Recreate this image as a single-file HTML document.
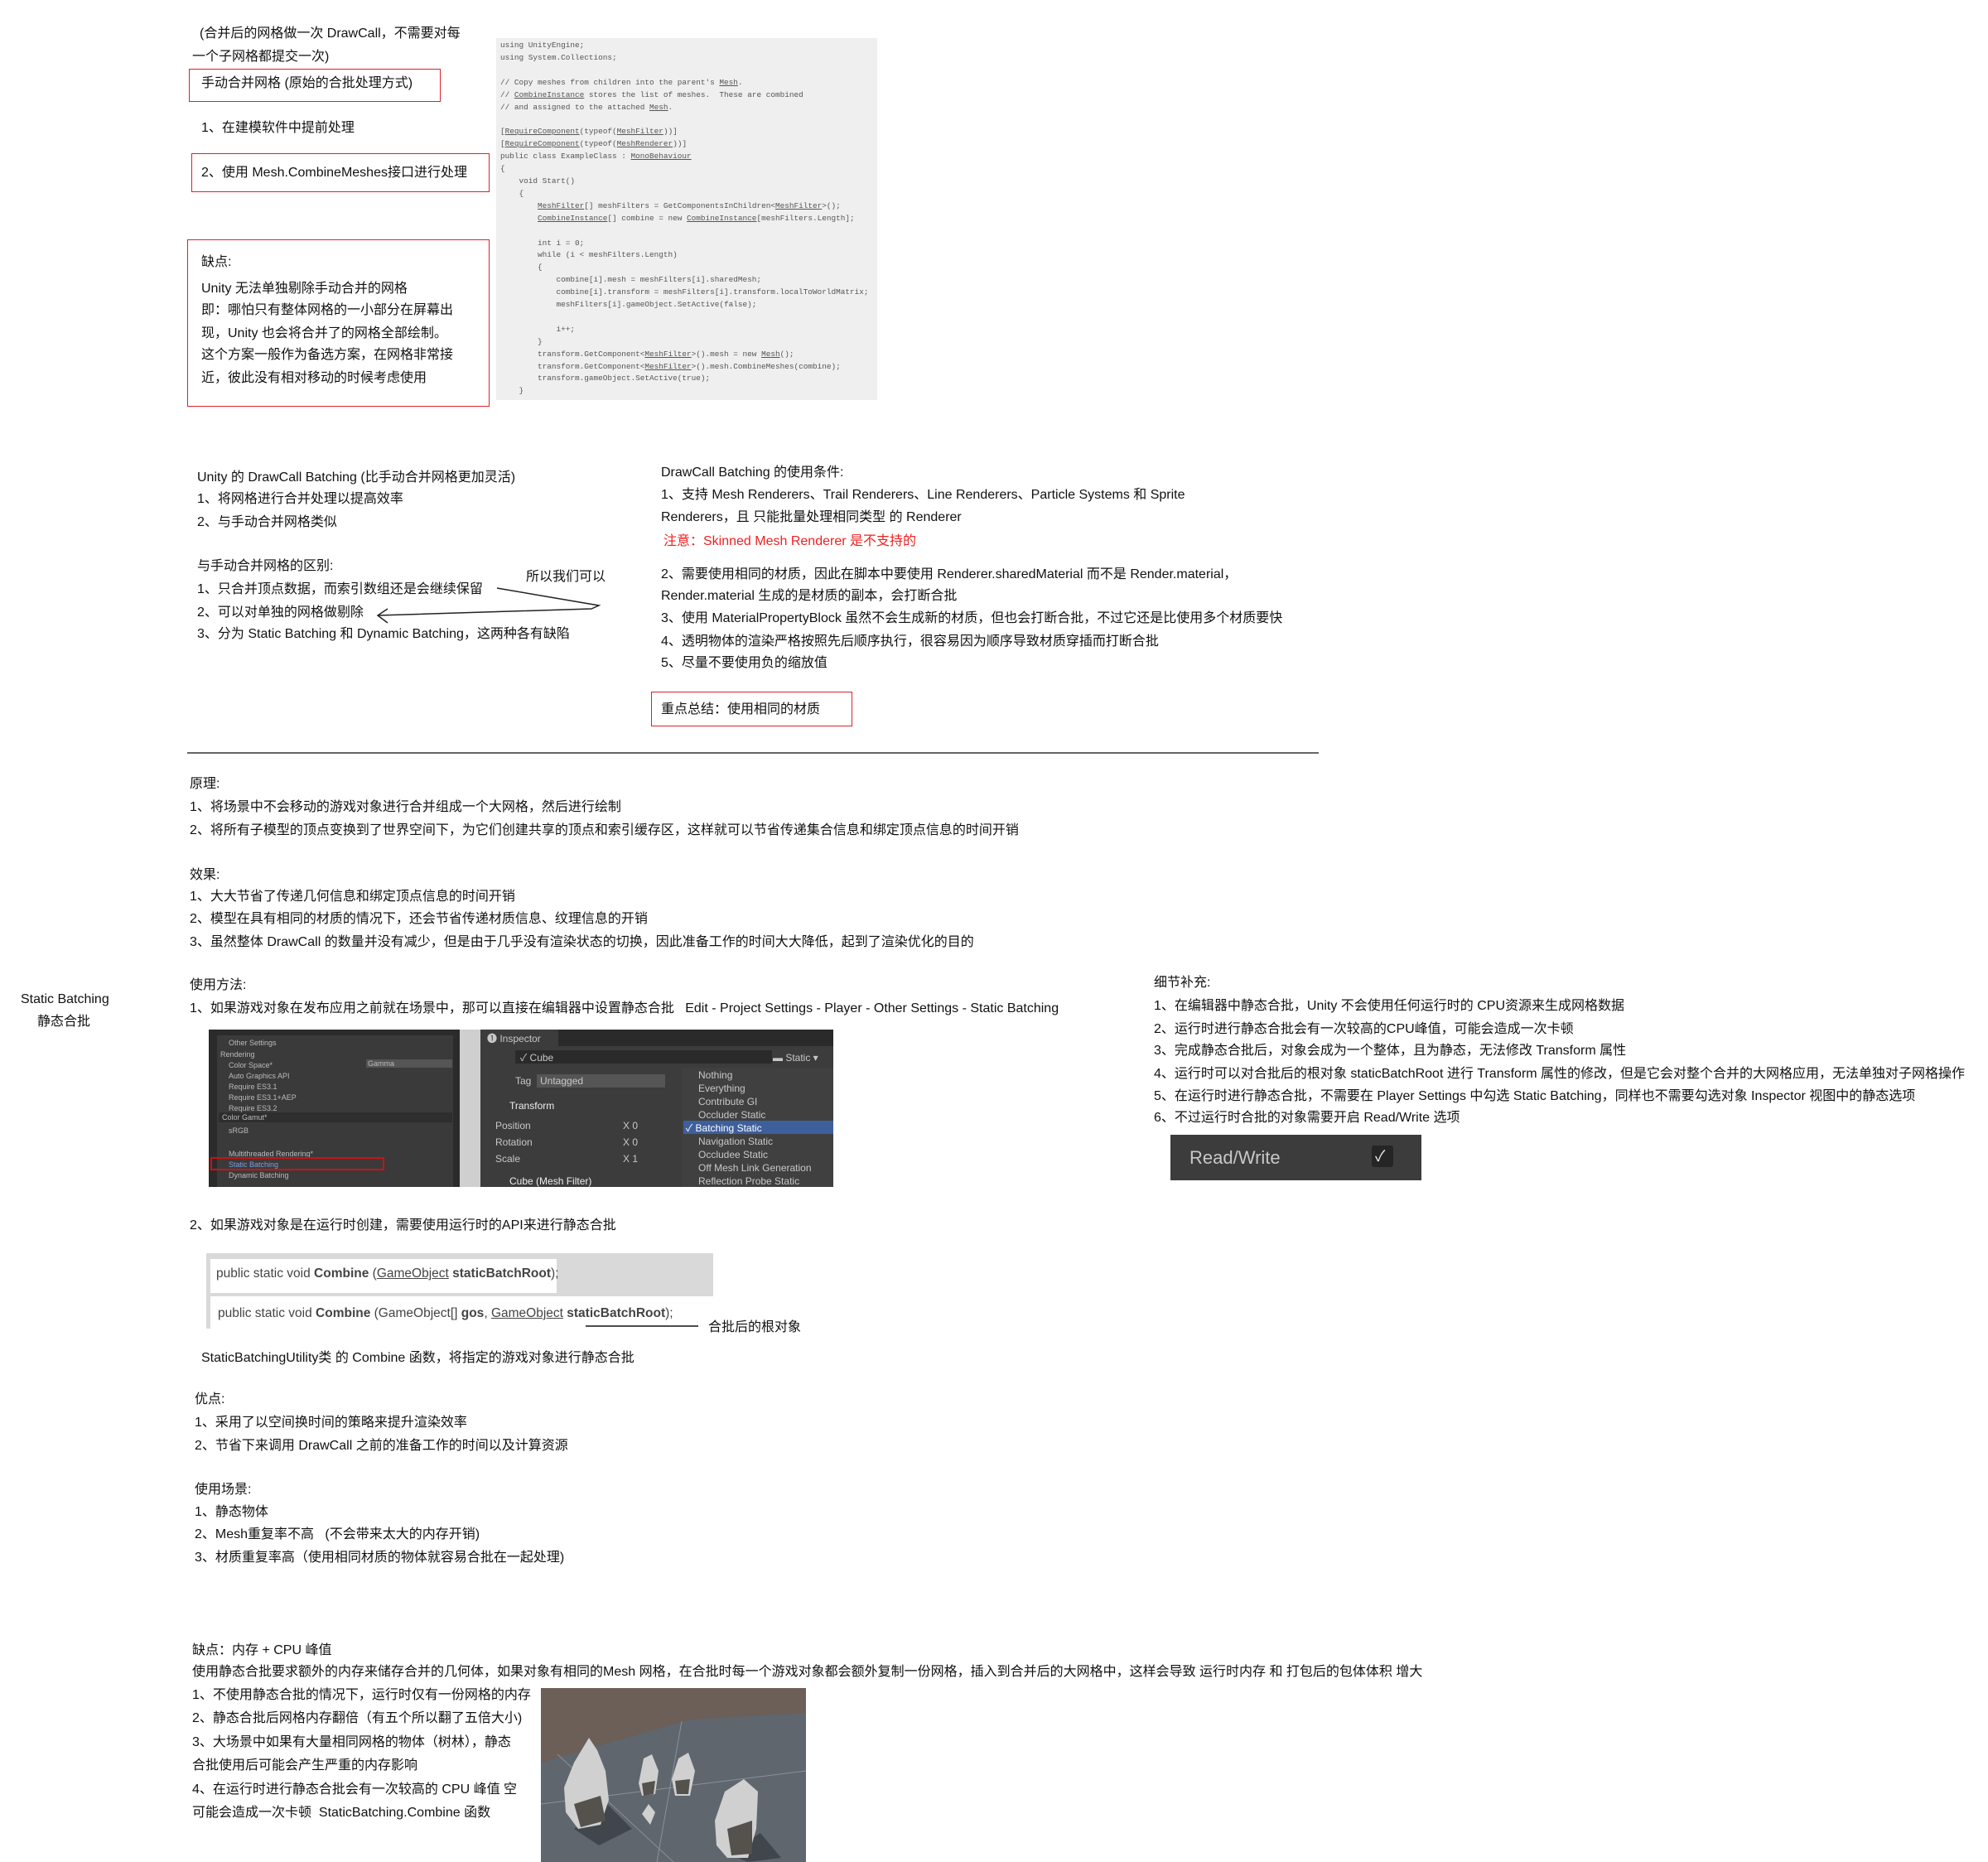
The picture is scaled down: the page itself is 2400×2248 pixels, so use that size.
<!DOCTYPE html>
<html><head><meta charset="utf-8"><style>
body{margin:0;width:2400px;height:2248px;background:#fff;position:relative;overflow:hidden;font-family:"Liberation Sans","Noto Sans CJK SC",sans-serif;color:#111}
.t{position:absolute;white-space:nowrap;font-size:16px;line-height:20px;margin-top:0}
.box{position:absolute;border:1.5px solid #e0202a}
.code{position:absolute;left:599px;top:46px;width:460px;height:437px;background:#efefef}
.c{position:absolute;left:5px;white-space:pre;font-family:"Liberation Mono",monospace;font-size:9.4px;line-height:14.9px;color:#555}
.u{text-decoration:underline}
.dk{position:absolute;background:#383838}
.s{position:absolute;white-space:nowrap;font-size:9px;color:#bbb;line-height:11px}
.m{position:absolute;white-space:nowrap;font-size:12px;color:#c8c8c8;line-height:14px}
</style></head><body>

<div class="t" style="left:241px;top:31px">(合并后的网格做一次 DrawCall，不需要对每</div>
<div class="t" style="left:232px;top:59px">一个子网格都提交一次)</div>
<div class="box" style="left:228px;top:83px;width:302px;height:38px"></div>
<div class="t" style="left:243px;top:91px">手动合并网格 (原始的合批处理方式)</div>
<div class="t" style="left:243px;top:145px">1、在建模软件中提前处理</div>
<div class="box" style="left:231px;top:185px;width:358px;height:45px"></div>
<div class="t" style="left:243px;top:199px">2、使用 Mesh.CombineMeshes接口进行处理</div>
<div class="box" style="left:226px;top:289px;width:363px;height:200px"></div>
<div class="t" style="left:243px;top:307px">缺点:</div>
<div class="t" style="left:243px;top:339px">Unity 无法单独剔除手动合并的网格</div>
<div class="t" style="left:243px;top:365px">即：哪怕只有整体网格的一小部分在屏幕出</div>
<div class="t" style="left:243px;top:393px">现，Unity 也会将合并了的网格全部绘制。</div>
<div class="t" style="left:243px;top:419px">这个方案一般作为备选方案，在网格非常接</div>
<div class="t" style="left:243px;top:447px">近，彼此没有相对移动的时候考虑使用</div>

<div class="code">
<div class="c" style="top:2px">using UnityEngine;
using System.Collections;

// Copy meshes from children into the parent's <span class="u">Mesh</span>.
// <span class="u">CombineInstance</span> stores the list of meshes.  These are combined
// and assigned to the attached <span class="u">Mesh</span>.

[<span class="u">RequireComponent</span>(typeof(<span class="u">MeshFilter</span>))]
[<span class="u">RequireComponent</span>(typeof(<span class="u">MeshRenderer</span>))]
public class ExampleClass : <span class="u">MonoBehaviour</span>
{
    void Start()
    {
        <span class="u">MeshFilter</span>[] meshFilters = GetComponentsInChildren&lt;<span class="u">MeshFilter</span>&gt;();
        <span class="u">CombineInstance</span>[] combine = new <span class="u">CombineInstance</span>[meshFilters.Length];

        int i = 0;
        while (i &lt; meshFilters.Length)
        {
            combine[i].mesh = meshFilters[i].sharedMesh;
            combine[i].transform = meshFilters[i].transform.localToWorldMatrix;
            meshFilters[i].gameObject.SetActive(false);

            i++;
        }
        transform.GetComponent&lt;<span class="u">MeshFilter</span>&gt;().mesh = new <span class="u">Mesh</span>();
        transform.GetComponent&lt;<span class="u">MeshFilter</span>&gt;().mesh.CombineMeshes(combine);
        transform.gameObject.SetActive(true);
    }</div>
</div>

<div class="t" style="left:238px;top:567px">Unity 的 DrawCall Batching (比手动合并网格更加灵活)</div>
<div class="t" style="left:238px;top:593px">1、将网格进行合并处理以提高效率</div>
<div class="t" style="left:238px;top:621px">2、与手动合并网格类似</div>
<div class="t" style="left:238px;top:674px">与手动合并网格的区别:</div>
<div class="t" style="left:238px;top:702px">1、只合并顶点数据，而索引数组还是会继续保留</div>
<div class="t" style="left:238px;top:730px">2、可以对单独的网格做剔除</div>
<div class="t" style="left:238px;top:756px">3、分为 Static Batching 和 Dynamic Batching，这两种各有缺陷</div>
<div class="t" style="left:635px;top:687px">所以我们可以</div>
<svg style="position:absolute;left:0;top:0" width="2400" height="2248"><path d="M600 710 L723 731 L714 735 L456 743" fill="none" stroke="#222" stroke-width="1.5"/><path d="M468 735 L456 743 L468 752" fill="none" stroke="#222" stroke-width="1.5"/><line x1="226" y1="909" x2="1592" y2="909" stroke="#333" stroke-width="1.5"/><line x1="707" y1="1601" x2="843" y2="1601" stroke="#111" stroke-width="1.5"/></svg>

<div class="t" style="left:798px;top:561px">DrawCall Batching 的使用条件:</div>
<div class="t" style="left:798px;top:588px">1、支持 Mesh Renderers、Trail Renderers、Line Renderers、Particle Systems 和 Sprite</div>
<div class="t" style="left:798px;top:615px">Renderers，且 只能批量处理相同类型 的 Renderer</div>
<div class="t" style="left:801px;top:644px;color:#f02020">注意：Skinned Mesh Renderer 是不支持的</div>
<div class="t" style="left:798px;top:684px">2、需要使用相同的材质，因此在脚本中要使用 Renderer.sharedMaterial 而不是 Render.material，</div>
<div class="t" style="left:798px;top:710px">Render.material 生成的是材质的副本，会打断合批</div>
<div class="t" style="left:798px;top:737px">3、使用 MaterialPropertyBlock 虽然不会生成新的材质，但也会打断合批，不过它还是比使用多个材质要快</div>
<div class="t" style="left:798px;top:765px">4、透明物体的渲染严格按照先后顺序执行，很容易因为顺序导致材质穿插而打断合批</div>
<div class="t" style="left:798px;top:791px">5、尽量不要使用负的缩放值</div>
<div class="box" style="left:786px;top:835px;width:241px;height:40px"></div>
<div class="t" style="left:798px;top:847px">重点总结：使用相同的材质</div>

<div class="t" style="left:229px;top:937px">原理:</div>
<div class="t" style="left:229px;top:965px">1、将场景中不会移动的游戏对象进行合并组成一个大网格，然后进行绘制</div>
<div class="t" style="left:229px;top:993px">2、将所有子模型的顶点变换到了世界空间下，为它们创建共享的顶点和索引缓存区，这样就可以节省传递集合信息和绑定顶点信息的时间开销</div>
<div class="t" style="left:229px;top:1047px">效果:</div>
<div class="t" style="left:229px;top:1073px">1、大大节省了传递几何信息和绑定顶点信息的时间开销</div>
<div class="t" style="left:229px;top:1100px">2、模型在具有相同的材质的情况下，还会节省传递材质信息、纹理信息的开销</div>
<div class="t" style="left:229px;top:1128px">3、虽然整体 DrawCall 的数量并没有减少，但是由于几乎没有渲染状态的切换，因此准备工作的时间大大降低，起到了渲染优化的目的</div>
<div class="t" style="left:229px;top:1180px">使用方法:</div>
<div class="t" style="left:229px;top:1208px">1、如果游戏对象在发布应用之前就在场景中，那可以直接在编辑器中设置静态合批&nbsp;&nbsp;&nbsp;Edit - Project Settings - Player - Other Settings - Static Batching</div>
<div class="t" style="left:25px;top:1197px">Static Batching</div>
<div class="t" style="left:45px;top:1224px">静态合批</div>

<!-- screenshot 1 -->
<div class="dk" style="left:252px;top:1243px;width:303px;height:190px;background:#2b2b2b"></div>
<div class="dk" style="left:262px;top:1250px;width:285px;height:183px;background:#3a3a3a"></div>
<div class="s" style="left:276px;top:1254px">Other Settings</div>
<div class="s" style="left:266px;top:1268px">Rendering</div>
<div class="s" style="left:276px;top:1281px">Color Space*</div>
<div class="dk" style="left:442px;top:1279px;width:104px;height:10px;background:#555"></div>
<div class="s" style="left:444px;top:1279px">Gamma</div>
<div class="s" style="left:276px;top:1294px">Auto Graphics API</div>
<div class="s" style="left:276px;top:1307px">Require ES3.1</div>
<div class="s" style="left:276px;top:1320px">Require ES3.1+AEP</div>
<div class="s" style="left:276px;top:1333px">Require ES3.2</div>
<div class="dk" style="left:264px;top:1343px;width:282px;height:12px;background:#2e2e2e"></div>
<div class="s" style="left:268px;top:1344px">Color Gamut*</div>
<div class="s" style="left:276px;top:1360px">sRGB</div>
<div class="s" style="left:276px;top:1388px">Multithreaded Rendering*</div>
<div style="position:absolute;left:254px;top:1397px;width:210px;height:16px;border:2.5px solid #d01010;box-sizing:border-box"></div>
<div class="s" style="left:276px;top:1401px;color:#7aa0e0">Static Batching</div>
<div class="s" style="left:276px;top:1414px">Dynamic Batching</div>
<div class="dk" style="left:555px;top:1243px;width:25px;height:190px;background:#cfcfcf"></div>
<!-- screenshot 2 -->
<div class="dk" style="left:580px;top:1243px;width:426px;height:190px;background:#3c3c3c"></div>
<div class="dk" style="left:580px;top:1243px;width:426px;height:20px;background:#2a2a2a"></div>
<div class="dk" style="left:580px;top:1243px;width:94px;height:20px;background:#3c3c3c"></div>
<div class="m" style="left:588px;top:1247px">❶ Inspector</div>
<div class="dk" style="left:622px;top:1268px;width:310px;height:16px;background:#2a2a2a"></div>
<div class="m" style="left:628px;top:1270px">✓ Cube</div>
<div class="m" style="left:933px;top:1270px">▬ Static ▾</div>
<div class="m" style="left:622px;top:1298px">Tag</div>
<div class="dk" style="left:648px;top:1297px;width:155px;height:16px;background:#555"></div>
<div class="m" style="left:652px;top:1298px">Untagged</div>
<div class="m" style="left:615px;top:1328px;color:#eee">Transform</div>
<div class="m" style="left:598px;top:1352px">Position</div><div class="m" style="left:752px;top:1352px">X 0</div>
<div class="m" style="left:598px;top:1372px">Rotation</div><div class="m" style="left:752px;top:1372px">X 0</div>
<div class="m" style="left:598px;top:1392px">Scale</div><div class="m" style="left:752px;top:1392px">X 1</div>
<div class="m" style="left:615px;top:1419px;color:#eee">Cube (Mesh Filter)</div>
<div class="dk" style="left:823px;top:1289px;width:183px;height:144px;background:#404040"></div>
<div class="dk" style="left:825px;top:1353px;width:181px;height:16px;background:#3d5f9c"></div>
<div class="m" style="left:843px;top:1291px">Nothing</div>
<div class="m" style="left:843px;top:1307px">Everything</div>
<div class="m" style="left:843px;top:1323px">Contribute GI</div>
<div class="m" style="left:843px;top:1339px">Occluder Static</div>
<div class="m" style="left:828px;top:1355px;color:#fff">✓ Batching Static</div>
<div class="m" style="left:843px;top:1371px">Navigation Static</div>
<div class="m" style="left:843px;top:1387px">Occludee Static</div>
<div class="m" style="left:843px;top:1403px">Off Mesh Link Generation</div>
<div class="m" style="left:843px;top:1419px">Reflection Probe Static</div>

<div class="t" style="left:229px;top:1470px">2、如果游戏对象是在运行时创建，需要使用运行时的API来进行静态合批</div>
<div class="dk" style="left:249px;top:1513px;width:612px;height:52px;background:#d9d9d9"></div>
<div class="dk" style="left:249px;top:1565px;width:5px;height:39px;background:#d9d9d9"></div>
<div class="dk" style="left:254px;top:1520px;width:418px;height:41px;background:#fff"></div>
<div class="t" style="left:261px;top:1528px;color:#444;font-size:15.5px">public static void <b>Combine</b> (<span class="u">GameObject</span> <b>staticBatchRoot</b>);</div>
<div class="t" style="left:263px;top:1576px;color:#444;font-size:15.5px">public static void <b>Combine</b> (GameObject[] <b>gos</b>, <span class="u">GameObject</span> <b>staticBatchRoot</b>);</div>
<div class="t" style="left:855px;top:1593px">合批后的根对象</div>
<div class="t" style="left:243px;top:1630px">StaticBatchingUtility类 的 Combine 函数，将指定的游戏对象进行静态合批</div>
<div class="t" style="left:235px;top:1680px">优点:</div>
<div class="t" style="left:235px;top:1708px">1、采用了以空间换时间的策略来提升渲染效率</div>
<div class="t" style="left:235px;top:1736px">2、节省下来调用 DrawCall 之前的准备工作的时间以及计算资源</div>
<div class="t" style="left:235px;top:1789px">使用场景:</div>
<div class="t" style="left:235px;top:1816px">1、静态物体</div>
<div class="t" style="left:235px;top:1843px">2、Mesh重复率不高&nbsp;&nbsp;&nbsp;(不会带来太大的内存开销)</div>
<div class="t" style="left:235px;top:1871px">3、材质重复率高（使用相同材质的物体就容易合批在一起处理)</div>

<div class="t" style="left:232px;top:1983px">缺点：内存 + CPU 峰值</div>
<div class="t" style="left:232px;top:2009px">使用静态合批要求额外的内存来储存合并的几何体，如果对象有相同的Mesh 网格，在合批时每一个游戏对象都会额外复制一份网格，插入到合并后的大网格中，这样会导致 运行时内存 和 打包后的包体体积 增大</div>
<div class="t" style="left:232px;top:2037px">1、不使用静态合批的情况下，运行时仅有一份网格的内存</div>
<div class="t" style="left:232px;top:2065px">2、静态合批后网格内存翻倍（有五个所以翻了五倍大小)</div>
<div class="t" style="left:232px;top:2094px">3、大场景中如果有大量相同网格的物体（树林），静态</div>
<div class="t" style="left:232px;top:2122px">合批使用后可能会产生严重的内存影响</div>
<div class="t" style="left:232px;top:2151px">4、在运行时进行静态合批会有一次较高的 CPU 峰值 空</div>
<div class="t" style="left:232px;top:2179px">可能会造成一次卡顿&nbsp;&nbsp;StaticBatching.Combine 函数</div>

<svg style="position:absolute;left:653px;top:2038px" width="320" height="210">
<rect width="320" height="210" fill="#5c636b"/>
<polygon points="0,0 320,0 320,30 180,38 0,90" fill="#6b5f58"/>
<polygon points="0,90 180,38 320,30 320,210 0,210" fill="#5f666e"/>
<g stroke="#8a9097" stroke-width="1" fill="none"><line x1="20" y1="80" x2="160" y2="210"/><line x1="170" y1="40" x2="140" y2="210"/><line x1="0" y1="140" x2="320" y2="100"/></g>
<g fill="#3a3e44" opacity="0.8"><polygon points="40,170 80,140 110,170 70,190"/><polygon points="225,200 265,175 290,205 250,210"/></g>
<g fill="#d0d0d0"><polygon points="28,120 40,90 58,60 68,75 78,100 82,135 72,165 45,170 30,150"/><polygon points="118,115 124,85 134,80 142,100 138,128 122,130"/><polygon points="158,110 166,85 178,78 186,100 180,130 162,130"/><polygon points="210,160 222,125 245,110 262,125 260,170 250,205 225,205 212,190"/><polygon points="122,152 130,140 138,150 132,165"/></g>
<g fill="#55524e"><polygon points="40,140 72,130 78,160 48,168"/><polygon points="225,170 255,160 255,200 230,202"/><polygon points="122,115 138,112 136,128 124,130"/><polygon points="162,112 180,110 178,128 164,128"/></g>
</svg>

<div class="t" style="left:1393px;top:1177px">细节补充:</div>
<div class="t" style="left:1393px;top:1205px">1、在编辑器中静态合批，Unity 不会使用任何运行时的 CPU资源来生成网格数据</div>
<div class="t" style="left:1393px;top:1233px">2、运行时进行静态合批会有一次较高的CPU峰值，可能会造成一次卡顿</div>
<div class="t" style="left:1393px;top:1259px">3、完成静态合批后，对象会成为一个整体，且为静态，无法修改 Transform 属性</div>
<div class="t" style="left:1393px;top:1287px">4、运行时可以对合批后的根对象 staticBatchRoot 进行 Transform 属性的修改，但是它会对整个合并的大网格应用，无法单独对子网格操作</div>
<div class="t" style="left:1393px;top:1314px">5、在运行时进行静态合批，不需要在 Player Settings 中勾选 Static Batching，同样也不需要勾选对象 Inspector 视图中的静态选项</div>
<div class="t" style="left:1393px;top:1340px">6、不过运行时合批的对象需要开启 Read/Write 选项</div>
<div class="dk" style="left:1413px;top:1370px;width:303px;height:55px;background:#3c3c3c"></div>
<div class="t" style="left:1436px;top:1386px;color:#c8c8c8;font-size:22px;line-height:24px">Read/Write</div>
<div class="dk" style="left:1656px;top:1383px;width:26px;height:26px;background:#252525;border-radius:3px"></div>
<div class="t" style="left:1660px;top:1386px;color:#eee;font-size:18px">✓</div>
</body></html>
